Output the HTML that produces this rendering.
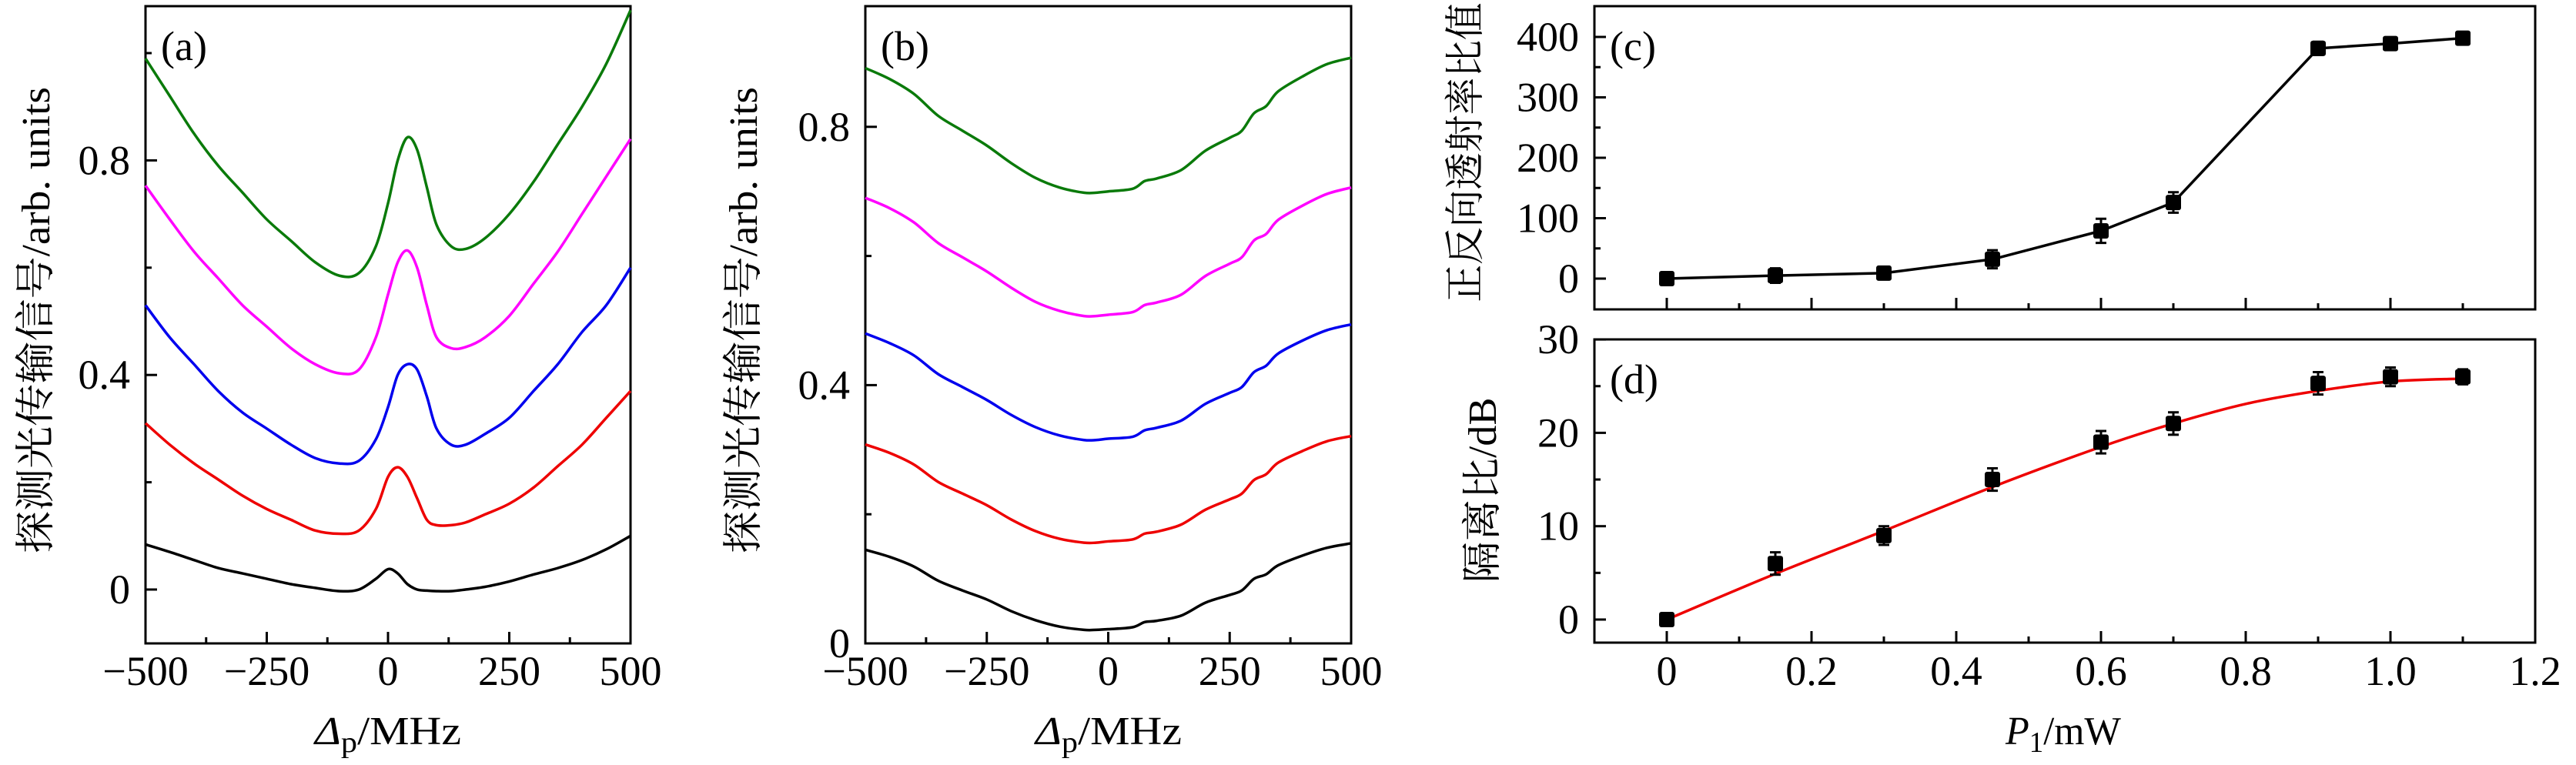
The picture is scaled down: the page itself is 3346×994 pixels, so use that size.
<!DOCTYPE html>
<html><head><meta charset="utf-8">
<style>
html,body{margin:0;padding:0;background:#fff;}
svg{display:block;}
text{font-family:"Liberation Serif","Noto Serif CJK SC",serif;fill:#000;}
.cjk{font-family:"Liberation Serif","Noto Serif CJK SC","Noto Sans CJK SC",serif;}
</style></head>
<body>
<svg id="fig" width="3346" height="994" viewBox="0 0 3346 994" xmlns="http://www.w3.org/2000/svg">
<g id="root"></g>
</svg>
<script>
// ---- Panel (a) data ----
const aX = [-500,-450,-400,-350,-300,-250,-200,-150,-100,-60,-25,0,20,40,60,80,100,130,160,200,250,300,350,400,450,500];
const aGreen = [0.99,0.92,0.85,0.79,0.74,0.69,0.65,0.61,0.585,0.59,0.64,0.72,0.80,0.843,0.82,0.75,0.68,0.64,0.635,0.655,0.70,0.76,0.83,0.90,0.98,1.08];
const aMagenta = [0.753,0.69,0.63,0.58,0.53,0.49,0.45,0.42,0.403,0.41,0.47,0.55,0.61,0.632,0.60,0.53,0.47,0.45,0.452,0.47,0.51,0.57,0.63,0.70,0.77,0.84];
const aBlue = [0.53,0.47,0.42,0.37,0.33,0.30,0.27,0.245,0.235,0.24,0.28,0.34,0.40,0.42,0.41,0.36,0.30,0.27,0.27,0.29,0.32,0.37,0.42,0.48,0.53,0.60];
const aRed = [0.31,0.27,0.235,0.205,0.175,0.15,0.13,0.11,0.104,0.11,0.15,0.21,0.228,0.21,0.17,0.13,0.12,0.12,0.125,0.14,0.16,0.19,0.23,0.27,0.32,0.37];
const aBlack = [0.084,0.07,0.055,0.04,0.03,0.02,0.01,0.003,-0.003,0.0,0.02,0.038,0.03,0.01,0.0,-0.002,-0.003,-0.003,0.0,0.005,0.015,0.028,0.04,0.055,0.075,0.10];
// ---- Panel (b) data ----
const bX = [-500,-450,-400,-350,-300,-250,-200,-150,-100,-50,-25,0,50,75,100,150,200,250,275,300,325,350,400,450,500];
const bGreen = [0.891,0.874,0.851,0.817,0.794,0.771,0.744,0.721,0.706,0.698,0.698,0.700,0.704,0.716,0.720,0.733,0.763,0.783,0.794,0.821,0.832,0.855,0.878,0.897,0.907];
const bMagenta = [0.690,0.674,0.652,0.620,0.598,0.576,0.551,0.529,0.515,0.507,0.507,0.509,0.513,0.524,0.528,0.540,0.569,0.588,0.598,0.624,0.634,0.656,0.678,0.696,0.706];
const bBlue = [0.480,0.465,0.446,0.417,0.397,0.377,0.354,0.335,0.322,0.315,0.315,0.317,0.320,0.330,0.334,0.345,0.371,0.388,0.397,0.420,0.430,0.449,0.469,0.485,0.494];
const bRed = [0.308,0.295,0.277,0.250,0.232,0.214,0.192,0.174,0.162,0.156,0.156,0.158,0.161,0.170,0.173,0.184,0.207,0.223,0.232,0.253,0.262,0.280,0.298,0.313,0.321];
const bBlack = [0.145,0.134,0.119,0.097,0.082,0.068,0.050,0.036,0.026,0.021,0.021,0.022,0.025,0.033,0.035,0.043,0.063,0.075,0.082,0.100,0.107,0.121,0.136,0.148,0.155];
// ---- Panel (c)/(d) data ----
const pX = [0,0.15,0.3,0.45,0.6,0.7,0.9,1.0,1.1];
const cY = [0,5,9,32,79,126,381,389,398];
const cErr = [3,12,6,15,20,17,11,8,6];
const dY = [0,6,9,15,19,21,25.3,26,26];
const dErr = [0.3,1.2,1.0,1.2,1.2,1.2,1.2,1.0,0.8];
const fitX = [0,0.15,0.3,0.45,0.6,0.7,0.8,0.9,1.0,1.1];
const fitY = [0,4.9,9.5,14.2,18.5,21.0,23.1,24.5,25.5,25.8];
const abTicks = [-500,-250,0,250,500];
const aYTicks = [0,0.4,0.8];
const cXTicks = [0,0.2,0.4,0.6,0.8,1.0,1.2];
const cXLabels = ["0","0.2","0.4","0.6","0.8","1.0","1.2"];
const cYTicks = [0,100,200,300,400];
const dYTicks = [0,10,20,30];

const NS = "http://www.w3.org/2000/svg";
const root = document.getElementById('root');
function mk(tag, attrs, parent){ const e=document.createElementNS(NS,tag); for(const k in attrs) e.setAttribute(k,attrs[k]); (parent||root).appendChild(e); return e; }

function panel(cfg){
  const g = mk('g',{});
  
  
  const sx = v => cfg.x0 + (v - cfg.xmin) * cfg.xs;
  const sy = v => cfg.y0 - v * cfg.ys;
  const fr = mk('rect',{x:cfg.L,y:cfg.T,width:cfg.R-cfg.L,height:cfg.B-cfg.T,fill:'none',stroke:'#000','stroke-width':3},g);
  
  
  cfg.xMajor.forEach(v=>{ mk('line',{x1:sx(v),x2:sx(v),y1:cfg.B,y2:cfg.B-15,stroke:'#000','stroke-width':3},g); });
  cfg.xMinor.forEach(v=>{ mk('line',{x1:sx(v),x2:sx(v),y1:cfg.B,y2:cfg.B-8,stroke:'#000','stroke-width':3},g); });
  cfg.yMajor.forEach(v=>{ mk('line',{x1:cfg.L,x2:cfg.L+15,y1:sy(v),y2:sy(v),stroke:'#000','stroke-width':3},g); });
  cfg.yMinor.forEach(v=>{ mk('line',{x1:cfg.L,x2:cfg.L+8,y1:sy(v),y2:sy(v),stroke:'#000','stroke-width':3},g); });
  if(cfg.xLabels){
    cfg.xMajor.forEach((v,i)=>{
      const t = mk('text',{x:sx(v),y:890,'font-size':54,'text-anchor':'middle'},g);
      t.textContent = cfg.xLabels[i];
      
      
    });
  }
  cfg.yMajor.forEach((v,i)=>{
    const t = mk('text',{x:cfg.L-20,y:sy(v)+18,'font-size':54,'text-anchor':'end'},g);
    t.textContent = cfg.yLabels[i];
    
    
  });
  const pl = mk('text',{x:cfg.L+20,y:cfg.T+70,'font-size':54},g);
  pl.textContent = cfg.tag;
  
  
  return {g,sx,sy};
}

function curve(p, xs, ys, color, name){
  const d = xs.map((x,i)=> (i?'L':'M') + p.sx(x).toFixed(1)+','+p.sy(ys[i]).toFixed(1)).join(' ');
  const e = mk('path',{d:d,fill:'none',stroke:color,'stroke-width':3.5,'stroke-linejoin':'round'},p.g);
  
  
}
function smooth(p, xs, ys, color, name){
  const pts = xs.map((x,i)=>[p.sx(x),p.sy(ys[i])]);
  let d = 'M'+pts[0][0]+','+pts[0][1];
  for(let i=0;i<pts.length-1;i++){
    const p0=pts[Math.max(0,i-1)],p1=pts[i],p2=pts[i+1],p3=pts[Math.min(pts.length-1,i+2)];
    d += ' C'+(p1[0]+(p2[0]-p0[0])/6)+','+(p1[1]+(p2[1]-p0[1])/6)+' '+(p2[0]-(p3[0]-p1[0])/6)+','+(p2[1]-(p3[1]-p1[1])/6)+' '+p2[0]+','+p2[1];
  }
  const e = mk('path',{d:d,fill:'none',stroke:color,'stroke-width':3.5,'stroke-linejoin':'round'},p.g);
  
  
}

const pa = panel({name:'panel-a',L:189,R:819,T:8,B:836,x0:504,xmin:0,xs:0.63,y0:766,ys:697,
  xMajor:abTicks,xMinor:[-375,-125,125,375],yMajor:aYTicks,yMinor:[0.2,0.6,1.0],
  xLabels:['\u2212500','\u2212250','0','250','500'],yLabels:['0','0.4','0.8'],tag:'(a)'});
smooth(pa,aX,aGreen,'#0a7a0a','a-green-line');
smooth(pa,aX,aMagenta,'#ff00ff','a-magenta-line');
smooth(pa,aX,aBlue,'#0000ee','a-blue-line');
smooth(pa,aX,aRed,'#ee0000','a-red-line');
smooth(pa,aX,aBlack,'#000','a-black-line');

const pb = panel({name:'panel-b',L:1124,R:1755,T:8,B:836,x0:1439.5,xmin:0,xs:0.631,y0:836,ys:839,
  xMajor:abTicks,xMinor:[-375,-125,125,375],yMajor:aYTicks,yMinor:[0.2,0.6],
  xLabels:['\u2212500','\u2212250','0','250','500'],yLabels:['0','0.4','0.8'],tag:'(b)'});
smooth(pb,bX,bGreen,'#0a7a0a','b-green-line');
smooth(pb,bX,bMagenta,'#ff00ff','b-magenta-line');
smooth(pb,bX,bBlue,'#0000ee','b-blue-line');
smooth(pb,bX,bRed,'#ee0000','b-red-line');
smooth(pb,bX,bBlack,'#000','b-black-line');

const pc = panel({name:'panel-c',L:2071,R:3293,T:8,B:402,x0:2165,xmin:0,xs:940,y0:362,ys:0.785,
  xMajor:cXTicks,xMinor:[0.1,0.3,0.5,0.7,0.9,1.1],yMajor:cYTicks,yMinor:[50,150,250,350],
  xLabels:null,yLabels:cYTicks.map(String),tag:'(c)'});
curve(pc,pX,cY,'#000','c-line');
function markers(p, ys, errs, name){
  pX.forEach((x,i)=>{
    const cx=p.sx(x), cy=p.sy(ys[i]), t=p.sy(ys[i]+errs[i]), b=p.sy(ys[i]-errs[i]);
    const eb = mk('path',{d:`M${cx},${t} V${b} M${cx-7},${t} H${cx+7} M${cx-7},${b} H${cx+7}`,stroke:'#000','stroke-width':3,fill:'none'},p.g);
    
    
    const r = mk('rect',{x:cx-10,y:cy-10,width:20,height:20,rx:3,fill:'#000'},p.g);
    
    
  });
}
markers(pc,cY,cErr,'c');

const pd = panel({name:'panel-d',L:2071,R:3293,T:441,B:835,x0:2165,xmin:0,xs:940,y0:805,ys:12.13,
  xMajor:cXTicks,xMinor:[0.1,0.3,0.5,0.7,0.9,1.1],yMajor:dYTicks,yMinor:[5,15,25],
  xLabels:cXLabels,yLabels:dYTicks.map(String),tag:'(d)'});
smooth(pd,fitX,fitY,'#ee0000','d-fit-line');
markers(pd,dY,dErr,'d');

function label(x,y,txt,rot,len,name,cls){
  const t = mk('text',{x:x,y:y,'font-size':52,'text-anchor':'middle',transform:rot?`rotate(-90 ${x} ${y})`:'',
    textLength:len,lengthAdjust:'spacingAndGlyphs'});
  if(cls) t.setAttribute('class',cls);
  t.innerHTML = txt;
  
  
}
label(64,416,'探测光传输信号/arb. units',true,606,'a-y-axis-title','cjk');
label(983,416,'探测光传输信号/arb. units',true,606,'b-y-axis-title','cjk');
label(1921,198,'正反向透射率比值',true,389,'c-y-axis-title','cjk');
label(1943,637,'隔离比/dB',true,241,'d-y-axis-title','cjk');
label(504,967,'<tspan font-style="italic">Δ</tspan><tspan font-size="38" dy="10">p</tspan><tspan dy="-10">/MHz</tspan>',false,190,'a-x-axis-title');
label(1440,967,'<tspan font-style="italic">Δ</tspan><tspan font-size="38" dy="10">p</tspan><tspan dy="-10">/MHz</tspan>',false,190,'b-x-axis-title');
label(2680,967,'<tspan font-style="italic">P</tspan><tspan font-size="38" dy="10">1</tspan><tspan dy="-10">/mW</tspan>',false,150,'d-x-axis-title');
</script>
</body></html>
